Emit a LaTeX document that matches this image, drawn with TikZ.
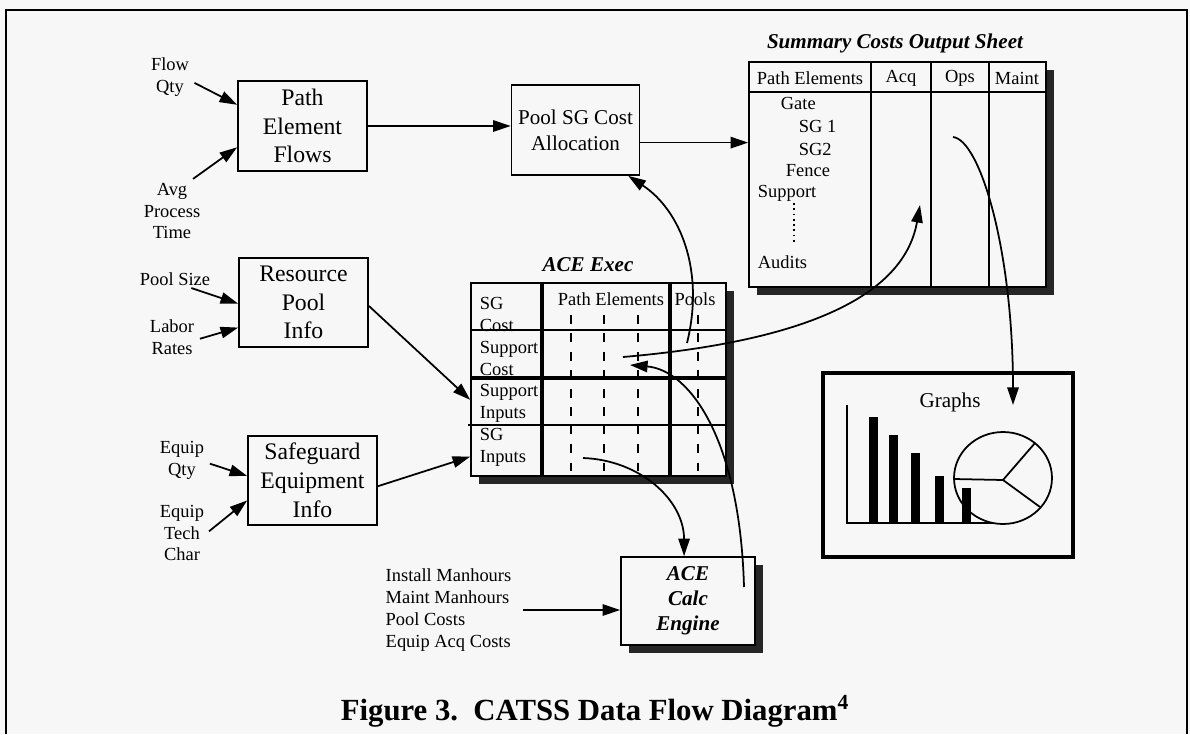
\documentclass[tikz,border=0pt]{standalone}
\usepackage{fontspec}
\setmainfont{Liberation Serif}
\usetikzlibrary{arrows.meta, positioning, shadows}
\definecolor{paper}{RGB}{247,247,247}
\tikzset{
  box/.style={draw, fill=paper, align=center, inner sep=0pt, font=\fontsize{13.5}{16.4}\selectfont},
  lbl/.style={align=center, inner sep=0pt, font=\fontsize{10.5}{12.5}\selectfont},
  cell/.style={inner sep=0pt, font=\fontsize{10.5}{12.5}\selectfont},
  tabtitle/.style={inner sep=0pt, font=\fontsize{12}{14}\selectfont\bfseries\itshape},
  flow/.style={-{Triangle[length=10pt,width=6.5pt]}},
  feed/.style={flow, shorten <=3pt},
  shadowed/.style={drop shadow={shadow xshift=0.16cm, shadow yshift=-0.16cm, fill=black!85, opacity=1}},
  griddash/.style={line width=0.7pt, dash pattern=on 5pt off 5.5pt}
}

\begin{document}
\begin{tikzpicture}[x=0.02cm, y=-0.02cm, line width=1pt]
  \useasboundingbox[fill=paper] (0,0) rectangle (1190,734);
  \draw (6,734) -- (6,10) -- (1187,10) -- (1187,734);

  % boxes on the left
  \node[box, minimum width=2.58cm, minimum height=1.8cm] (flows) at (302.5,126) {Path\\Element\\Flows};
  \node[box, minimum width=2.58cm, minimum height=1.78cm] (respool) at (303.5,302.5) {Resource\\Pool\\Info};
  \node[box, minimum width=2.58cm, minimum height=1.78cm] (sgequip) at (312.5,480.5) {Safeguard\\Equipment\\Info};
  \node[box, minimum width=2.56cm, minimum height=1.8cm, font=\fontsize{12}{14.7}\selectfont] (pool) at (575.5,130) {Pool SG Cost\\Allocation};

  % input labels
  \node[lbl] (flowqty) at (170,77) {Flow\\Qty};
  \node[lbl] (avgtime) at (172,211) {Avg\\Process\\Time};
  \node[lbl] (poolsize) at (175,279) {Pool Size};
  \node[lbl] (labor) at (172,337) {Labor\\Rates};
  \node[lbl] (eqqty) at (182,460) {Equip\\Qty};
  \node[lbl] (eqtech) at (182,533) {Equip\\Tech\\Char};
  \node[lbl, align=left] (costs) at (448.5,610) {Install Manhours\\Maint Manhours\\Pool Costs\\Equip Acq Costs};

  \foreach \from/\to in {flowqty.-10/flows.162, avgtime.60/flows.198, poolsize.-33/respool.181,
                         labor.-8/respool.201, eqqty.-5/sgequip.176, eqtech.-4/sgequip.197}
    \draw[feed] (\from) -- (\to);
  \draw[flow] (flows.east) -- (flows.east -| pool.west);

  % summary sheet
  \node[tabtitle] (sumtitle) at (895,43) {Summary Costs Output Sheet};
  \node[draw, fill=paper, shadowed, minimum width=5.94cm, minimum height=4.5cm, inner sep=0pt] (summary) at (897.5,174.5) {};
  \draw (749,92) -- (1046,92);
  \foreach \x in {871, 931, 989}
    \draw (\x,62) -- (\x,287);
  \foreach \t/\x [count=\i] in {Path Elements/810, Acq/901, Ops/960, Maint/1017}
    \node[cell] (col\i) at (\x,78) {\t};
  \foreach \t/\x/\y [count=\i] in {Gate/780/103, SG 1/798/126, SG2/798/149, Fence/785/171, Support/757/193, Audits/757/262}
    \node[cell, anchor=west] (row\i) at (\x,\y) {\t};
  \draw[dotted] (794,203) -- (794,245);
  \draw[flow] (pool.-11) -- (pool.-11 -| summary.west);

  % ACE Exec table
  \node[tabtitle] (acetitle) at (588,265) {ACE Exec};
  \node[draw, fill=paper, shadowed, minimum width=5.1cm, minimum height=3.86cm, inner sep=0pt] (ace) at (598.5,379.5) {};
  \foreach \x in {571, 604, 638, 698}
    \draw[griddash] (\x,315) -- (\x,476);
  \draw[line width=1.4pt] (471,330) -- (726,330);
  \draw[line width=1.4pt] (468,425) -- (726,425);
  \draw[line width=2.4pt] (471,378) -- (726,378);
  \foreach \x in {542, 670}
    \draw[line width=2.4pt] (\x,283) -- (\x,476);
  \node[cell] (acepath) at (611,299) {Path Elements};
  \node[cell] (acepools) at (695,299) {Pools};
  \foreach \a/\b/\y [count=\i] in {SG/Cost/314, Support/Cost/358, Support/Inputs/403, SG/Inputs/447}
    \node[cell, align=left, anchor=west] (acerow\i) at (479,\y) {\a\\\b};
  \draw[flow] (respool.-3) -- (ace.189);
  \draw[flow] (sgequip.-5) -- (ace.211);

  % calc engine
  \node[box, shadowed, minimum width=2.68cm, minimum height=1.76cm, font=\fontsize{12}{14.2}\selectfont\bfseries\itshape] (calc) at (688,601) {ACE\\Calc\\Engine};
  \draw[flow] ([xshift=0.22cm]costs.east) -- (costs.east -| calc.west);

  % graphs
  \node[draw, line width=2.2pt, minimum width=5cm, minimum height=3.68cm, inner sep=0pt] (graphs) at (948,465) {};
  \node[inner sep=0pt, font=\fontsize{12}{14}\selectfont] (graphtitle) at (950,402) {Graphs};
  \draw (847,405) -- (847,523) -- (993,523);
  \draw (1003,478) ellipse [x radius=0.98cm, y radius=0.92cm];
  \draw (954,479) -- (1003,480) -- (1035,443) (1003,480) -- (1040,507);
  \foreach \x/\h in {873/417, 893/435, 915/453, 939/476, 966/488}
    \fill ({\x-4.5},\h) rectangle ({\x+4.5},523);

  % curved flows
  \coordinate (poolcell) at (687,343);
  \coordinate (supcell) at (623,357);
  \coordinate (supin) at (630,365);
  \coordinate (sgcell) at (583,458);
  \coordinate (calcout) at (744,587);
  \coordinate (acqcell) at (920,205);
  \coordinate (opscell) at (953,137);
  \coordinate (graphin) at (1013,405);
  \draw[flow] (poolcell) .. controls (705,270) and (680,210) .. (pool.-41);
  \draw[flow] (supcell) .. controls (820,340) and (905,290) .. (acqcell);
  \draw[flow] (calcout) .. controls (740,440) and (690,370) .. (supin);
  \draw[flow] (sgcell) .. controls (640,460) and (684,500) .. (calc.95);
  \draw[flow] (opscell) .. controls (980,140) and (1013,250) .. (graphin);

  \node[inner sep=0pt, font=\fontsize{17.5}{20}\selectfont\bfseries] (caption) at (595,711) {Figure 3.\ \ CATSS Data Flow Diagram\textsuperscript{4}};
\end{tikzpicture}
\end{document}
